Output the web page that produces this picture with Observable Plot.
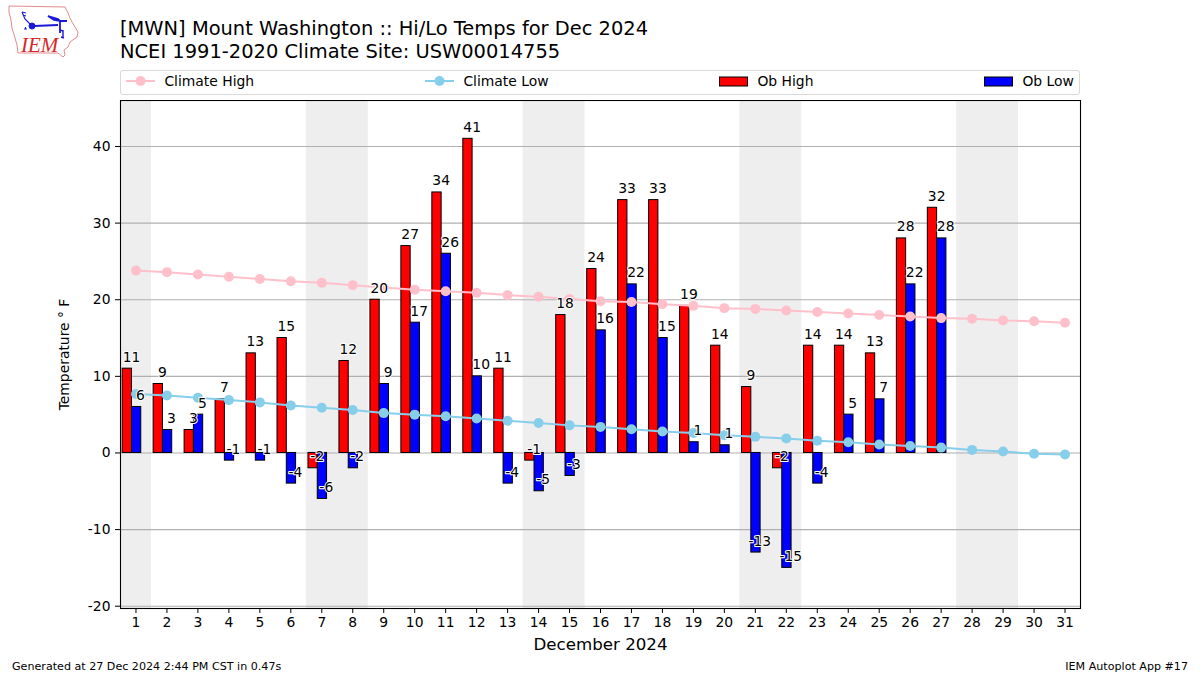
<!DOCTYPE html>
<html><head><meta charset="utf-8">
<script src="https://cdn.jsdelivr.net/npm/d3@7"></script>
<script src="https://cdn.jsdelivr.net/npm/@observablehq/plot@0.6"></script>
<style>
html,body{margin:0;padding:0;background:#fff;font-family:"DejaVu Sans",sans-serif;color:#000;}
#page{position:relative;width:1200px;height:675px;overflow:hidden;}
#head{position:relative;height:100px;}
#logo{position:absolute;left:8px;top:5px;}
#title{position:absolute;left:120px;top:18px;font-size:19.44px;line-height:22.6px;white-space:nowrap;}
#legend{position:absolute;left:120px;top:70px;width:958px;height:23px;border:1.2px solid #d9d9d9;border-radius:3px;box-sizing:content-box;font-size:13.89px;}
.lg{position:absolute;top:0;height:23px;line-height:21px;white-space:nowrap;}
.lg svg{position:absolute;left:0;top:0;}
.lg span{position:absolute;top:0;}
#footL{position:absolute;left:12px;top:660px;font-size:11.11px;}
#footR{position:absolute;right:12px;top:660px;font-size:11.11px;}
#chart svg{display:block;}
</style></head>
<body><div id="page">
<div id="head">
<svg id="logo" width="72" height="54" viewBox="0 0 72 54">
<path d="M1 1 L57 2 L60 8 L62 13 L64 17 L70 27 L69 32 L62 37 L60 42 L56 45 L57 50 L55 52 L50 48 L10 48 L9 40 L7 33 L4 23 L3 15 L1 7 Z" fill="none" stroke="#e58a8a" stroke-width="1"/>
<g stroke="#1a1ad6" fill="#1a1ad6">
<path d="M14 7 L17 14 L24 21" fill="none" stroke-width="1.2"/>
<path d="M14 7 L18 8 M15 10 L18 11" fill="none" stroke-width="1"/>
<circle cx="24" cy="21" r="3"/>
<path d="M26 21 L50 20 M52 16 L52 28 M40 11 L50 14 L52 16 L46 15 Z M52 16 L59 16" fill="#1a1ad6" stroke-width="1.8"/>
<path d="M52 25 L55 26 M55 25 L55 33 M53 32 L56 33" fill="none" stroke-width="1.4"/>
<path d="M16 24 L19 24 M17.5 22 L17.5 24" fill="none" stroke-width="1"/>
</g>
<text x="13" y="47" font-family="Liberation Serif" font-style="italic" font-size="21" fill="#d62828">IEM</text>
</svg>
<div id="title">[MWN] Mount Washington :: Hi/Lo Temps for Dec 2024<br>NCEI 1991-2020 Climate Site: USW00014755</div>
<div id="legend"></div>
</div>
<div id="chart"></div>
<div id="footL">Generated at 27 Dec 2024 2:44 PM CST in 0.47s</div>
<div id="footR">IEM Autoplot App #17</div>
</div>
<script>
const days = d3.range(1, 32);
const obHigh = [11,9,3,7,13,15,-2,12,20,27,34,41,11,-1,18,24,33,33,19.2,14,8.6,-2,14,14,13,28,32];
const obLow = [6,3,5,-1,-1,-4,-6,-2,9,17,26,10,-4,-5,-3,16,22,15,1.4,1,-13,-15,-4,5,7,22,28];
const climateHigh = [23.8,23.6,23.3,23.0,22.7,22.4,22.2,21.9,21.6,21.3,21.1,20.9,20.6,20.4,20.1,19.8,19.7,19.4,19.2,18.9,18.8,18.6,18.4,18.2,18.0,17.8,17.6,17.5,17.3,17.2,17.0];
const climateLow = [7.7,7.5,7.2,6.9,6.6,6.2,5.9,5.6,5.2,5.0,4.8,4.5,4.2,3.9,3.6,3.4,3.1,2.8,2.6,2.3,2.1,1.9,1.6,1.4,1.1,0.9,0.7,0.4,0.2,-0.1,-0.2];
const weekendStart = [0.5,6.5,13.5,20.5,27.5];
const weekendEnd = [1.5,8.5,15.5,22.5,29.5];
const yTicks = [-20,-10,0,10,20,30,40];
const legendItems = [
  {label:"Climate High", color:"pink", kind:"line", left:5},
  {label:"Climate Low", color:"skyblue", kind:"line", left:304},
  {label:"Ob High", color:"red", kind:"bar", left:598},
  {label:"Ob Low", color:"blue", kind:"bar", left:863}
];

const legend = document.getElementById("legend");
for (const it of legendItems) {
  const el = document.createElement("div");
  el.className = "lg";
  el.style.left = it.left + "px";
  const sw = it.kind === "line"
    ? `<svg width="30" height="23"><line x1="0" x2="29" y1="10" y2="10" stroke="${it.color}" stroke-width="2"/><circle cx="14.5" cy="10" r="5" fill="${it.color}"/></svg>`
    : `<svg width="30" height="23"><rect x="0.5" y="6" width="28" height="9" fill="${it.color}" stroke="#000" stroke-width="1"/></svg>`;
  el.innerHTML = sw + `<span style="left:38.4px">${it.label}</span>`;
  legend.appendChild(el);
}

const highRows = obHigh.map((v,i)=>({d:days[i],v}));
const lowRows = obLow.map((v,i)=>({d:days[i],v}));
const climHighRows = climateHigh.map((v,i)=>({d:days[i],v}));
const climLowRows = climateLow.map((v,i)=>({d:days[i],v}));
const bands = weekendStart.map((s,i)=>({s,e:weekendEnd[i]}));
const fmt = v => String(Math.round(v));
const font = '"DejaVu Sans", sans-serif';
const yMin = -20.3, yMax = 46;

const chart = Plot.plot({
  width: 1200, height: 575,
  marginLeft: 120, marginRight: 120, marginTop: 0, marginBottom: 67,
  style: {fontFamily: font, fontSize: "13.89px", background: "#fff", color: "#000"},
  x: {type:"linear", domain:[0.5,31.5], label:null},
  y: {type:"linear", domain:[yMin,yMax], label:null},
  marks: [
    Plot.rect(bands, {x1:"s", x2:"e", y1:yMin, y2:yMax, fill:"#eeeeee"}),
    Plot.ruleY(yTicks, {stroke:"#b0b0b0", strokeWidth:1.1}),
    Plot.rectY(highRows, {x1:d=>d.d-0.43, x2:d=>d.d-0.13, y1:0, y2:"v", fill:"red", stroke:"#000", strokeWidth:1}),
    Plot.rectY(lowRows, {x1:d=>d.d-0.13, x2:d=>d.d+0.17, y1:0, y2:"v", fill:"blue", stroke:"#000", strokeWidth:1}),
    Plot.line(climHighRows, {x:"d", y:"v", stroke:"pink", strokeWidth:2}),
    Plot.dot(climHighRows, {x:"d", y:"v", fill:"pink", r:5}),
    Plot.line(climLowRows, {x:"d", y:"v", stroke:"skyblue", strokeWidth:2}),
    Plot.dot(climLowRows, {x:"d", y:"v", fill:"skyblue", r:5}),
    Plot.text(highRows, {x:"d", y:"v", text:d=>fmt(d.v), dx:-4.5, dy:-7, lineAnchor:"bottom", fontSize:13.89, fill:"#000", stroke:"#fff", strokeWidth:2}),
    Plot.text(lowRows, {x:"d", y:"v", text:d=>fmt(d.v), dx:4.5, dy:-7, lineAnchor:"bottom", fontSize:13.89, fill:"#000", stroke:"#fff", strokeWidth:2}),
    Plot.frame({stroke:"#000", strokeWidth:1.1}),
    Plot.axisX({ticks:days, tickFormat:d=>String(d), tickSize:5, tickPadding:4, fontSize:13.89, label:null, stroke:"#000"}),
    Plot.axisY({ticks:yTicks, tickSize:5, tickPadding:5, fontSize:13.89, label:null, stroke:"#000", tickFormat:d=>String(d)}),
    Plot.text(["December 2024"], {frameAnchor:"bottom", dy:41, fontSize:16.67, fill:"#000"}),
    Plot.text(["Temperature ° F"], {frameAnchor:"left", textAnchor:"middle", dx:-56, rotate:-90, fontSize:13.89, fill:"#000"})
  ]
});
document.getElementById("chart").appendChild(chart);
</script>
</body></html>
